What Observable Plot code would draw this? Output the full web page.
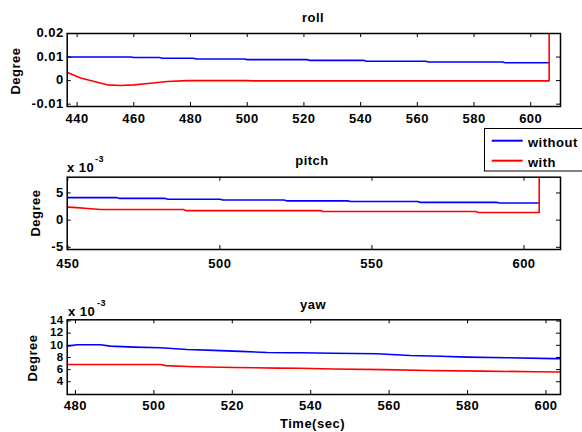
<!DOCTYPE html>
<html>
<head>
<meta charset="utf-8">
<script src="https://cdn.jsdelivr.net/npm/d3@7"></script>
<script src="https://cdn.jsdelivr.net/npm/@observablehq/plot@0.6"></script>
<style>
  html, body { margin: 0; padding: 0; background: white; }
  #wrap { position: relative; width: 582px; height: 432px; overflow: hidden; background: white; }
  #overlay { position: absolute; left: 0; top: 0; pointer-events: none; }
  #overlay text { font-family: 'Liberation Sans', Arial, sans-serif; font-weight: bold; font-size: 13px; letter-spacing: 0.5px; fill: black; }
</style>
</head>
<body>
<div id="wrap"></div>
<script>
// ---- data ----
const seriesNames = ["without", "with"];

// roll (degree)
const rollWithoutT = [436.5, 459, 460, 469, 470, 481, 482, 499, 500, 521, 522, 541, 542, 563, 564, 590, 591, 606.5];
const rollWithoutV = [0.0100, 0.0100, 0.0098, 0.0098, 0.0095, 0.0095, 0.0092, 0.0092, 0.0089, 0.0089, 0.0086, 0.0086, 0.0082, 0.0082, 0.0079, 0.0079, 0.0076, 0.0076];
const rollWithT = [436.8, 441.2, 447.1, 450.6, 455.3, 460, 465.9, 471.8, 478.8, 500, 502, 606.5, 606.5];
const rollWithV = [0.0033, 0.0011, -0.0007, -0.0018, -0.0021, -0.0018, -0.0011, -0.0004, 0.0000, 0.0000, -0.0001, -0.0001, 1];

// pitch (x 10^-3 degree)
const pitchWithoutT = [450, 466, 467, 482, 483, 500, 501, 521, 522, 542, 543, 565, 566, 591, 592, 605];
const pitchWithoutV = [4.15, 4.15, 4.0, 4.0, 3.85, 3.85, 3.7, 3.7, 3.55, 3.55, 3.42, 3.42, 3.27, 3.27, 3.15, 3.15];
const pitchWithT = [450, 453, 456.5, 460.8, 488, 489, 533, 534, 584, 585, 605, 605];
const pitchWithV = [2.4, 2.3, 2.15, 1.95, 1.95, 1.75, 1.75, 1.6, 1.6, 1.4, 1.4, 50];

// yaw (x 10^-3 degree)
const yawWithoutT = [477.9, 480.4, 486.4, 488.9, 494.9, 501.7, 508.5, 515.3, 522.1, 528.9, 534.8, 537.4, 545.8, 556.9, 565.4, 573.1, 579.9, 590.1, 602, 603.7];
const yawWithoutV = [9.87, 10.1, 10.1, 9.87, 9.7, 9.6, 9.3, 9.16, 9.0, 8.82, 8.78, 8.78, 8.7, 8.6, 8.33, 8.2, 8.05, 7.95, 7.8, 7.8];
const yawWithT = [477.9, 501.7, 503, 510.2, 520.4, 531.5, 537.4, 545.8, 558.6, 570, 583.5, 597.2, 603.7];
const yawWithV = [6.85, 6.85, 6.65, 6.47, 6.35, 6.25, 6.22, 6.1, 6.0, 5.85, 5.75, 5.65, 5.6];

// ticks
const rollXTicks = [440, 460, 480, 500, 520, 540, 560, 580, 600];
const rollYTicks = [-0.01, 0, 0.01, 0.02];
const pitchXTicks = [450, 500, 550, 600];
const pitchYTicks = [-5, 0, 5];
const yawXTicks = [480, 500, 520, 540, 560, 580, 600];
const yawYTicks = [4, 6, 8, 10, 12, 14];

const colors = ["#0000ff", "#ff0000"];
const FONT = "'Liberation Sans', Arial, sans-serif";

const zip = (t, v) => t.map((x, i) => ({x, y: v[i]}));

function panel({top, height, mt, mb, xDomain, yDomain, xTicks, yTicks, series, padX, ySize = 13}) {
  const W = 582, ml = 66.7, mr = 22;
  const iw = W - ml - mr, ih = height - mt - mb;
  const marks = [];
  series.forEach((s, i) => marks.push(Plot.line(s, {x: "x", y: "y", stroke: colors[i], strokeWidth: 1.6, clip: true})));
  marks.push(
    Plot.tickX(xTicks, {x: d => d, insetTop: ih - 4, stroke: "black", strokeWidth: 1}),
    Plot.tickX(xTicks, {x: d => d, insetBottom: ih - 4, stroke: "black", strokeWidth: 1}),
    Plot.tickY(yTicks, {y: d => d, insetRight: iw - 4, stroke: "black", strokeWidth: 1}),
    Plot.tickY(yTicks, {y: d => d, insetLeft: iw - 4, stroke: "black", strokeWidth: 1}),
    Plot.frame({stroke: "black", strokeWidth: 1.5}),
    Plot.axisX({ticks: xTicks, tickSize: 0, tickPadding: padX, tickFormat: d => String(d), label: null, fontWeight: "bold"}),
    Plot.axisY({ticks: yTicks, tickSize: 0, tickPadding: 3.5, tickFormat: d => String(d), label: null, fontWeight: "bold", fontSize: ySize, lineHeight: 0.9})
  );
  const svg = Plot.plot({
    width: W, height,
    marginTop: mt, marginBottom: mb, marginLeft: ml, marginRight: mr,
    x: {domain: xDomain},
    y: {domain: yDomain},
    style: {fontFamily: FONT, fontSize: "13px", fontWeight: "bold", letterSpacing: "0.5px", background: "transparent", color: "black"},
    marks
  });
  svg.style.position = "absolute";
  svg.style.left = "0px";
  svg.style.top = top + "px";
  document.getElementById("wrap").appendChild(svg);
}

panel({top: 0, height: 130, mt: 33, mb: 24, xDomain: [436.5, 610.5], yDomain: [-0.011, 0.02],
  xTicks: rollXTicks, yTicks: rollYTicks, padX: 7,
  series: [zip(rollWithoutT, rollWithoutV), zip(rollWithT, rollWithV)]});
panel({top: 140, height: 135, mt: 36.7, mb: 26, xDomain: [449.8, 612], yDomain: [-5.4, 7.9],
  xTicks: pitchXTicks, yTicks: pitchYTicks, padX: 9,
  series: [zip(pitchWithoutT, pitchWithoutV), zip(pitchWithT, pitchWithV)]});
panel({top: 290, height: 142, mt: 29.3, mb: 38, xDomain: [477.9, 603.7], yDomain: [1.9, 14.2],
  xTicks: yawXTicks, yTicks: yawYTicks, padX: 6, ySize: 11.5,
  series: [zip(yawWithoutT, yawWithoutV), zip(yawWithT, yawWithV)]});

// ---- overlay texts & legend ----
const ns = "http://www.w3.org/2000/svg";
const ov = document.createElementNS(ns, "svg");
ov.setAttribute("id", "overlay");
ov.setAttribute("width", 582);
ov.setAttribute("height", 432);
document.getElementById("wrap").appendChild(ov);
function txt(s, x, y, opts = {}) {
  const t = document.createElementNS(ns, "text");
  t.textContent = s;
  t.setAttribute("x", x); t.setAttribute("y", y);
  if (opts.anchor) t.setAttribute("text-anchor", opts.anchor);
  if (opts.rotate) t.setAttribute("transform", `rotate(-90 ${x} ${y})`);
  if (opts.size) t.style.fontSize = opts.size + "px";
  ov.appendChild(t);
  return t;
}
const titles = ["roll", "pitch", "yaw"];
txt(titles[0], 313, 21.5, {anchor: "middle"});
txt(titles[1], 312, 165, {anchor: "middle"});
txt(titles[2], 313, 308.5, {anchor: "middle"});
txt("Degree", 19.5, 71, {anchor: "middle", rotate: true});
txt("Degree", 40, 213, {anchor: "middle", rotate: true});
txt("Degree", 37, 358, {anchor: "middle", rotate: true});
txt("x 10", 67, 172);
txt("-3", 95, 161.5, {size: 9});
txt("x 10", 68, 316);
txt("-3", 97, 306, {size: 9});
txt("Time(sec)", 312.5, 427.5, {anchor: "middle"});

// legend
const box = document.createElementNS(ns, "rect");
box.setAttribute("x", 484.5); box.setAttribute("y", 128.5);
box.setAttribute("width", 110); box.setAttribute("height", 42.5);
box.setAttribute("fill", "white"); box.setAttribute("stroke", "black"); box.setAttribute("stroke-width", 1);
ov.appendChild(box);
seriesNames.forEach((name, i) => {
  const yy = 140.7 + i * 20;
  const l = document.createElementNS(ns, "line");
  l.setAttribute("x1", 491.7); l.setAttribute("x2", 522.7);
  l.setAttribute("y1", yy); l.setAttribute("y2", yy);
  l.setAttribute("stroke", colors[i]); l.setAttribute("stroke-width", 2);
  ov.appendChild(l);
  txt(name, 528, yy + 5.8);
});
</script>
</body>
</html>
